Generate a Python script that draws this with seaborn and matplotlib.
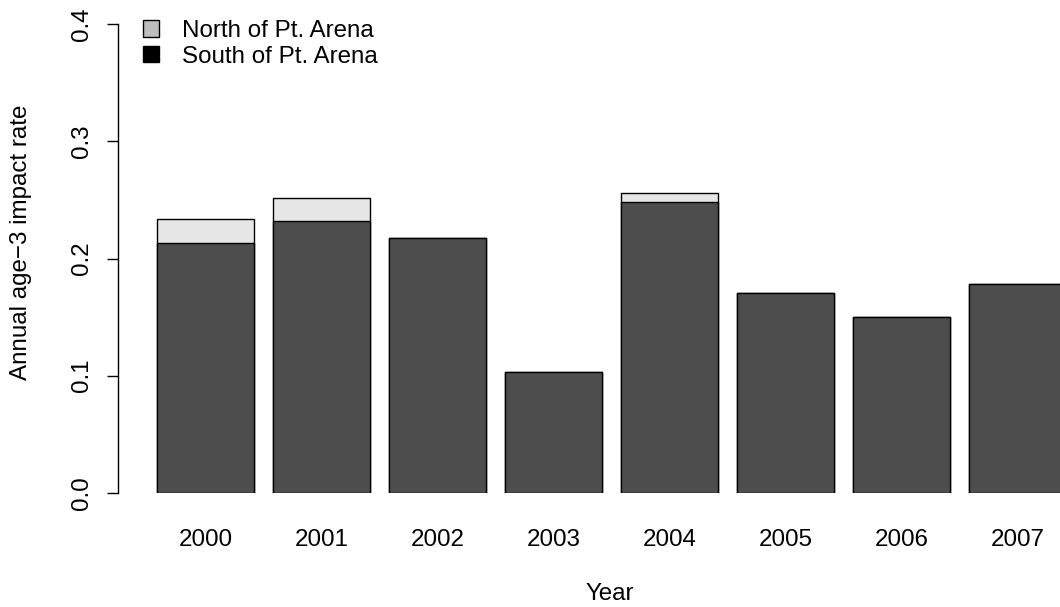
import matplotlib
matplotlib.use("Agg")
import matplotlib.pyplot as plt
import seaborn as sns
import pandas as pd
from matplotlib.patches import Patch

years = ["2000", "2001", "2002", "2003", "2004", "2005", "2006", "2007"]
south = [0.2132, 0.2320, 0.2175, 0.1032, 0.2482, 0.1706, 0.1501, 0.1783]
north = [0.0205, 0.0196, 0.0, 0.0, 0.0077, 0.0, 0.0, 0.0]
legend_labels = ["North of Pt. Arena", "South of Pt. Arena"]

sns.set_theme(style="white")
plt.rcParams["font.family"] = ["Liberation Sans", "DejaVu Sans"]
plt.rcParams["text.color"] = "black"
plt.rcParams["axes.labelcolor"] = "black"
plt.rcParams["xtick.color"] = "black"
plt.rcParams["ytick.color"] = "black"
FS = 17.4

df = pd.DataFrame({"year": years, "south": south,
                   "total": [s + n for s, n in zip(south, north)]})

fig = plt.figure(figsize=(10.6, 6.07), dpi=100)
ax = fig.add_axes([118/1060, 1 - 493/607, 1 - 118/1060, (493 - 24)/607])

sns.barplot(data=df, x="year", y="total", color="#e6e6e6", saturation=1,
            width=0.8333, edgecolor="black", linewidth=1.0, ax=ax)
sns.barplot(data=df, x="year", y="south", color="#4d4d4d", saturation=1,
            width=0.8333, edgecolor="black", linewidth=1.0, ax=ax)

ax.set_ylim(0, 0.4)
ax.set_xlim(-0.754, 7.366)
ax.set_yticks([0.0, 0.1, 0.2, 0.3, 0.4])
ax.set_yticklabels(["0.0", "0.1", "0.2", "0.3", "0.4"], rotation=90,
                   va="center", fontsize=FS)
ax.tick_params(axis="y", length=8, width=1, color="black", pad=10,
               left=True, labelcolor="black")
ax.tick_params(axis="x", length=0, pad=26, labelsize=FS, labelcolor="black")
for s in ["top", "right", "bottom"]:
    ax.spines[s].set_visible(False)
ax.spines["left"].set_color("black")
ax.spines["left"].set_linewidth(1)

ax.set_xlabel("Year", fontsize=FS, color="black")
ax.xaxis.set_label_coords((610 - 118)/942, (493 - 594)/469)
ax.xaxis.label.set_va("center")
ax.set_ylabel("Annual age\u22123 impact rate", fontsize=FS, color="black")
ax.yaxis.set_label_coords((21 - 118)/942, (493 - 242)/469)
ax.yaxis.label.set_va("center")

handles = [Patch(facecolor="#bebebe", edgecolor="black", linewidth=1),
           Patch(facecolor="black", edgecolor="black", linewidth=1)]
leg = fig.legend(handles, legend_labels, loc="upper left",
                 bbox_to_anchor=(143/1060, 1 - 20/607), frameon=False,
                 fontsize=FS, handlelength=0.68, handleheight=0.68,
                 handletextpad=0.93, labelspacing=0.15, borderpad=0,
                 borderaxespad=0)
for t in leg.get_texts():
    t.set_color("black")

fig.savefig("out.png", dpi=100)
